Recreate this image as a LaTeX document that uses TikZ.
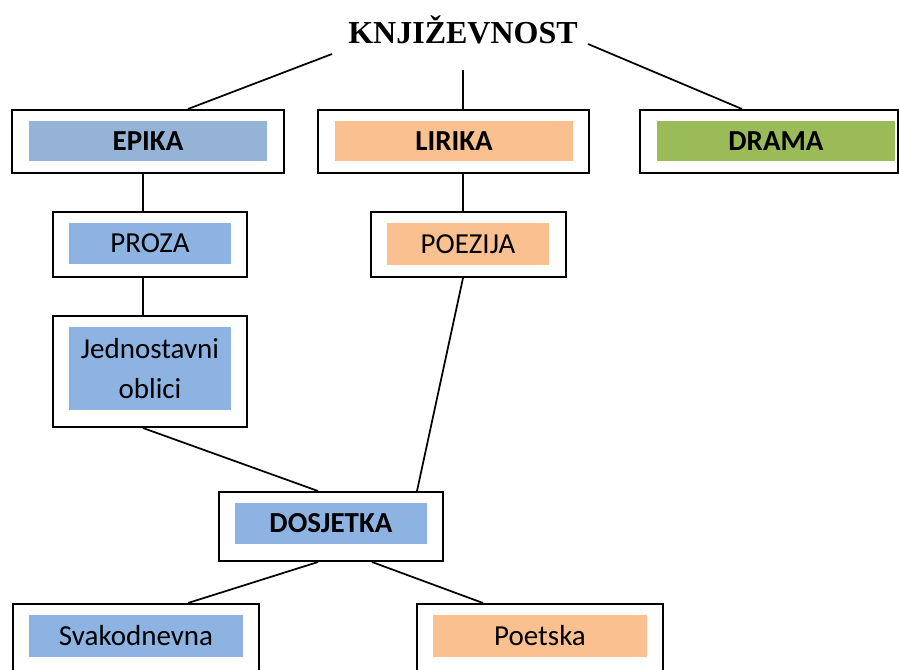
\documentclass[tikz,border=0pt]{standalone}
\usepackage{fontspec}
\setmainfont{Carlito}
\newfontfamily\titlefont{Liberation Serif}
\usetikzlibrary{calc}
\definecolor{epblue}{HTML}{95B3D7}
\definecolor{ltblue}{HTML}{8DB3E2}
\definecolor{ltorange}{HTML}{FAC090}
\definecolor{ltgreen}{HTML}{9BBB59}
\tikzset{
  outerbox/.style={draw, line width=1.5pt, inner sep=0pt, fill=white},
  innerbox/.style={inner sep=0pt, align=center, font=\fontsize{21.75}{30}\selectfont},
  conn/.style={line width=1.3pt},
}
\newcommand{\pxw}[1]{#1*0.75pt}
\begin{document}
\begin{tikzpicture}[x=0.75pt,y=-0.75pt]
\useasboundingbox (0,0) rectangle (899,670);
\clip (0,0) rectangle (899,670);

% title
\node[font=\titlefont\bfseries\fontsize{24}{28}\selectfont, inner sep=0pt] (title) at (463,30) {KNJIŽEVNOST};

% outer boxes
\node[outerbox, minimum width=\pxw{272}, minimum height=\pxw{63}] (epika) at (148,141.5) {};
\node[outerbox, minimum width=\pxw{271}, minimum height=\pxw{63}] (lirika) at (453.5,141.5) {};
\node[outerbox, minimum width=\pxw{258}, minimum height=\pxw{63}] (drama) at (769,141.5) {};
\node[outerbox, minimum width=\pxw{194}, minimum height=\pxw{65}] (proza) at (150,244.5) {};
\node[outerbox, minimum width=\pxw{194}, minimum height=\pxw{111}] (jedn) at (150,371.5) {};
\node[outerbox, minimum width=\pxw{195}, minimum height=\pxw{65}] (poezija) at (468.5,244.5) {};
\node[outerbox, minimum width=\pxw{224}, minimum height=\pxw{69}] (dosjetka) at (331,526.5) {};
\node[outerbox, minimum width=\pxw{246}, minimum height=\pxw{86}] (svak) at (136,647) {};
\node[outerbox, minimum width=\pxw{246}, minimum height=\pxw{86}] (poetska) at (540,647) {};

% inner labels
\node[innerbox, fill=epblue, minimum width=\pxw{238}, minimum height=\pxw{40}] (epikaT) at (148,141) {\bfseries EPIKA};
\node[innerbox, fill=ltorange, minimum width=\pxw{238}, minimum height=\pxw{40}] (lirikaT) at (454,141) {\bfseries LIRIKA};
\node[innerbox, fill=ltgreen, minimum width=\pxw{238}, minimum height=\pxw{40}] (dramaT) at (776,141) {\bfseries DRAMA};
\node[innerbox, fill=ltblue, minimum width=\pxw{162}, minimum height=\pxw{41}] (prozaT) at (150,243.5) {PROZA};
\node[innerbox, fill=ltblue, minimum width=\pxw{162}, minimum height=\pxw{83}] (jednT) at (150,368.5) {Jednostavni\\oblici};
\node[innerbox, fill=ltorange, minimum width=\pxw{162}, minimum height=\pxw{42}] (poezijaT) at (468,244) {POEZIJA};
\node[innerbox, fill=ltblue, minimum width=\pxw{192}, minimum height=\pxw{41}] (dosjetkaT) at (331,523.5) {\bfseries DOSJETKA};
\node[innerbox, fill=ltblue, minimum width=\pxw{214}, minimum height=\pxw{42}] (svakT) at (136,636) {Svakodnevna};
\node[innerbox, fill=ltorange, minimum width=\pxw{214}, minimum height=\pxw{42}] (poetskaT) at (540,636) {Poetska};

% connectors
\draw[conn] ($(title.center)+(-131,24)$) -- ($(epika.north)+(40,0)$);
\draw[conn] ($(title.center)+(0,40)$) -- ($(lirika.north)+(9.5,0)$);
\draw[conn] ($(title.center)+(125,14)$) -- ($(drama.north)+(-27,0)$);
\draw[conn] ($(epika.south)+(-5,0)$) -- ($(proza.north)+(-7,0)$);
\draw[conn] ($(proza.south)+(-7,0)$) -- ($(jedn.north)+(-7,0)$);
\draw[conn] ($(lirika.south)+(9.5,0)$) -- ($(poezija.north)+(-5.5,0)$);
\draw[conn] ($(poezija.south)+(-5.5,0)$) -- ($(dosjetka.north)+(86,0)$);
\draw[conn] ($(jedn.south)+(-7,0)$) -- ($(dosjetka.north)+(-13,0)$);
\draw[conn] ($(dosjetka.south)+(-13,0)$) -- ($(svak.north)+(52,0)$);
\draw[conn] ($(dosjetka.south)+(41,0)$) -- ($(poetska.north)+(-57,0)$);
\end{tikzpicture}
\end{document}
